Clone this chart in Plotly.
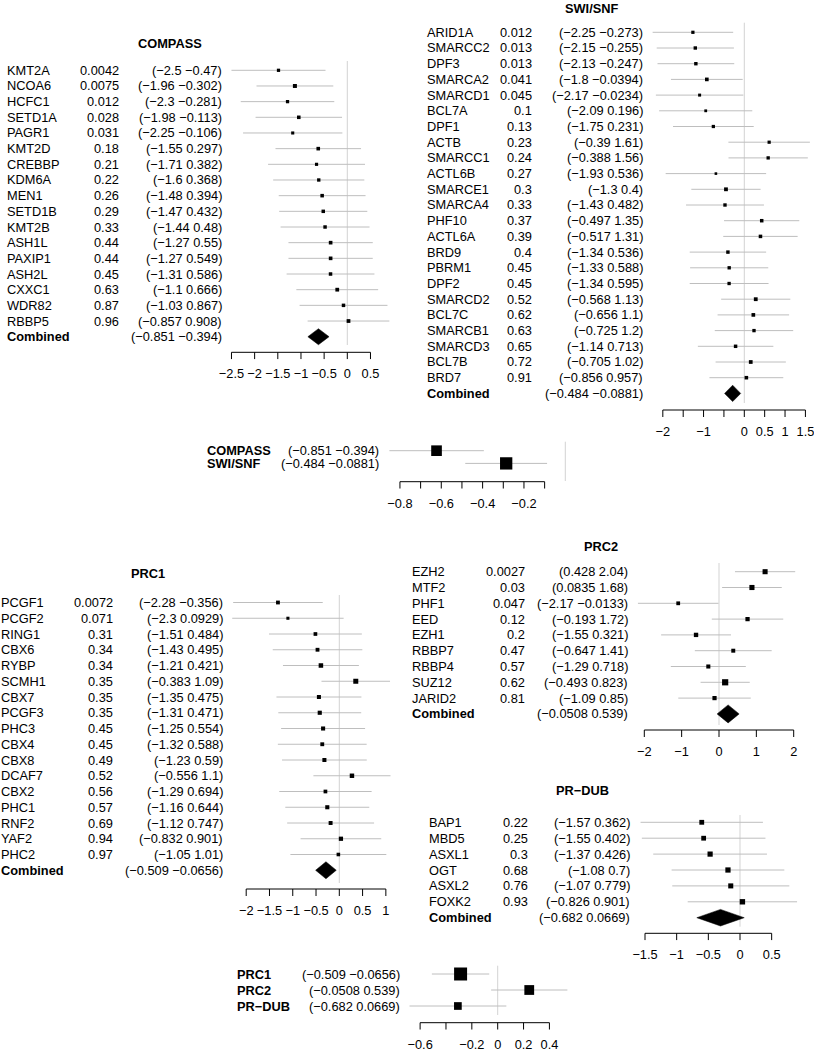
import plotly.graph_objects as go

W, H = 814, 1050
FONT = "Liberation Sans, Arial, Helvetica, sans-serif"
FS = 12.8
MINUS = "\u2212"
LINE_GRAY = "#BEBEBE"
ZERO_GRAY = "#D3D3D3"

# ---------------- data ----------------
compass_genes = ["KMT2A", "NCOA6", "HCFC1", "SETD1A", "PAGR1", "KMT2D", "CREBBP", "KDM6A", "MEN1",
                 "SETD1B", "KMT2B", "ASH1L", "PAXIP1", "ASH2L", "CXXC1", "WDR82", "RBBP5"]
compass_p = [0.0042, 0.0075, 0.012, 0.028, 0.031, 0.18, 0.21, 0.22, 0.26, 0.29, 0.33, 0.44, 0.44,
             0.45, 0.63, 0.87, 0.96]
compass_lo = [-2.5, -1.96, -2.3, -1.98, -2.25, -1.55, -1.71, -1.6, -1.48, -1.47, -1.44, -1.27, -1.27,
              -1.31, -1.1, -1.03, -0.857]
compass_hi = [-0.47, -0.302, -0.281, -0.113, -0.106, 0.297, 0.382, 0.368, 0.394, 0.432, 0.48, 0.55,
              0.549, 0.586, 0.666, 0.867, 0.908]
compass_est = [-1.485, -1.131, -1.29, -1.047, -1.178, -0.627, -0.664, -0.616, -0.543, -0.519, -0.48,
               -0.36, -0.36, -0.362, -0.217, -0.082, 0.026]
compass_comb = [-0.851, -0.394, -0.623]
compass_ticks = [-2.5, -2, -1.5, -1, -0.5, 0, 0.5]
compass_ticktext = ["−2.5", "−2", "−1.5", "−1", "−0.5", "0", "0.5"]

swisnf_genes = ["ARID1A", "SMARCC2", "DPF3", "SMARCA2", "SMARCD1", "BCL7A", "DPF1", "ACTB", "SMARCC1",
                "ACTL6B", "SMARCE1", "SMARCA4", "PHF10", "ACTL6A", "BRD9", "PBRM1", "DPF2", "SMARCD2",
                "BCL7C", "SMARCB1", "SMARCD3", "BCL7B", "BRD7"]
swisnf_p = [0.012, 0.013, 0.013, 0.041, 0.045, 0.1, 0.13, 0.23, 0.24, 0.27, 0.3, 0.33, 0.37, 0.39, 0.4,
            0.45, 0.45, 0.52, 0.62, 0.63, 0.65, 0.72, 0.91]
swisnf_lo = [-2.25, -2.15, -2.13, -1.8, -2.17, -2.09, -1.75, -0.39, -0.388, -1.93, -1.3, -1.43, -0.497,
             -0.517, -1.34, -1.33, -1.34, -0.568, -0.656, -0.725, -1.14, -0.705, -0.856]
swisnf_hi = [-0.273, -0.255, -0.247, -0.0394, -0.0234, 0.196, 0.231, 1.61, 1.56, 0.536, 0.4, 0.482, 1.35,
             1.31, 0.536, 0.588, 0.595, 1.13, 1.1, 1.2, 0.713, 1.02, 0.957]
swisnf_est = [-1.262, -1.203, -1.189, -0.92, -1.097, -0.947, -0.76, 0.61, 0.586, -0.697, -0.45, -0.474,
              0.427, 0.397, -0.402, -0.371, -0.373, 0.281, 0.222, 0.238, -0.214, 0.158, 0.051]
swisnf_comb = [-0.484, -0.0881, -0.286]
swisnf_ticks = [-2, -1.5, -1, -0.5, 0, 0.5, 1, 1.5]
swisnf_ticktext = ["−2", "", "−1", "", "0", "0.5", "1", "1.5"]

sum1_labels = ["COMPASS", "SWI/SNF"]
sum1_lo = [-0.851, -0.484]
sum1_hi = [-0.394, -0.0881]
sum1_est = [-0.623, -0.286]
sum1_ticks = [-0.8, -0.7, -0.6, -0.5, -0.4, -0.3, -0.2, -0.1]
sum1_ticktext = ["−0.8", "", "−0.6", "", "−0.4", "", "−0.2", ""]

prc1_genes = ["PCGF1", "PCGF2", "RING1", "CBX6", "RYBP", "SCMH1", "CBX7", "PCGF3", "PHC3", "CBX4", "CBX8",
              "DCAF7", "CBX2", "PHC1", "RNF2", "YAF2", "PHC2"]
prc1_p = [0.0072, 0.071, 0.31, 0.34, 0.34, 0.35, 0.35, 0.35, 0.45, 0.45, 0.49, 0.52, 0.56, 0.57, 0.69,
          0.94, 0.97]
prc1_lo = [-2.28, -2.3, -1.51, -1.43, -1.21, -0.383, -1.35, -1.31, -1.25, -1.32, -1.23, -0.556, -1.29,
           -1.16, -1.12, -0.832, -1.05]
prc1_hi = [-0.356, 0.0929, 0.484, 0.495, 0.421, 1.09, 0.475, 0.471, 0.554, 0.588, 0.59, 1.1, 0.694,
           0.644, 0.747, 0.901, 1.01]
prc1_est = [-1.318, -1.104, -0.513, -0.468, -0.395, 0.354, -0.438, -0.42, -0.348, -0.366, -0.32, 0.272,
            -0.298, -0.258, -0.187, 0.035, -0.02]
prc1_comb = [-0.509, -0.0656, -0.287]
prc1_ticks = [-2, -1.5, -1, -0.5, 0, 0.5, 1]
prc1_ticktext = ["−2", "−1.5", "−1", "−0.5", "0", "0.5", "1"]

prc2_genes = ["EZH2", "MTF2", "PHF1", "EED", "EZH1", "RBBP7", "RBBP4", "SUZ12", "JARID2"]
prc2_p = [0.0027, 0.03, 0.047, 0.12, 0.2, 0.47, 0.57, 0.62, 0.81]
prc2_lo = [0.428, 0.0835, -2.17, -0.193, -1.55, -0.647, -1.29, -0.493, -1.09]
prc2_hi = [2.04, 1.68, -0.0133, 1.72, 0.321, 1.41, 0.718, 0.823, 0.85]
prc2_est = [1.234, 0.882, -1.092, 0.764, -0.615, 0.382, -0.286, 0.165, -0.12]
prc2_comb = [-0.0508, 0.539, 0.244]
prc2_ticks = [-2, -1, 0, 1, 2]
prc2_ticktext = ["−2", "−1", "0", "1", "2"]

prdub_genes = ["BAP1", "MBD5", "ASXL1", "OGT", "ASXL2", "FOXK2"]
prdub_p = [0.22, 0.25, 0.3, 0.68, 0.76, 0.93]
prdub_lo = [-1.57, -1.55, -1.37, -1.08, -1.07, -0.826]
prdub_hi = [0.362, 0.402, 0.426, 0.7, 0.779, 0.901]
prdub_est = [-0.604, -0.574, -0.472, -0.19, -0.146, 0.038]
prdub_comb = [-0.682, 0.0669, -0.308]
prdub_ticks = [-1.5, -1, -0.5, 0, 0.5]
prdub_ticktext = ["−1.5", "−1", "−0.5", "0", "0.5"]

sum2_labels = ["PRC1", "PRC2", "PR−DUB"]
sum2_lo = [-0.509, -0.0508, -0.682]
sum2_hi = [-0.0656, 0.539, 0.0669]
sum2_est = [-0.287, 0.244, -0.308]
sum2_ticks = [-0.6, -0.4, -0.2, 0, 0.2, 0.4]
sum2_ticktext = ["−0.6", "", "−0.2", "0", "0.2", "0.4"]


def fmt(v):
    return ("%g" % v).replace("-", MINUS)


fig = go.Figure()
annotations = []
axes = {}
TL = 7  # tick length px


def add_panel(idx, names, lo, hi, est, ticks, ticktext, g, pvals=None, comb=None, title=None):
    sfx = "" if idx == 1 else str(idx)
    xr, yr = "x" + sfx, "y" + sfx
    zero, ppu, row0, sp = g["zero_px"], g["ppu"], g["row0"], g["sp"]

    def row(px):
        return (px - row0) / sp

    bot_px = g["axis_px"] + TL
    x0p, x1p = g["dom"]
    axes["xaxis" + sfx] = dict(
        domain=[x0p / W, x1p / W], range=[(x0p - zero) / ppu, (x1p - zero) / ppu], anchor=yr,
        showgrid=False, zeroline=False, showline=False, ticks="", tickmode="array",
        tickvals=ticks, ticktext=ticktext, tickangle=0, ticklabeloverflow="allow",
        ticklabelstandoff=g.get("standoff", 5),
        tickfont=dict(size=FS, color="black", family=FONT), fixedrange=True)
    axes["yaxis" + sfx] = dict(
        domain=[1 - bot_px / H, 1 - g["top_px"] / H], range=[row(bot_px), row(g["top_px"])],
        anchor=xr, visible=False, fixedrange=True)

    n = len(names)
    # zero line
    fig.add_trace(go.Scatter(x=[0, 0], y=[row(g["zl"][0]), row(g["zl"][1])], mode="lines",
                             line=dict(color=ZERO_GRAY, width=1), xaxis=xr, yaxis=yr, hoverinfo="skip"))
    # CI lines
    xs, ys = [], []
    for k in range(n):
        xs += [lo[k], hi[k], None]
        ys += [k, k, None]
    fig.add_trace(go.Scatter(x=xs, y=ys, mode="lines", line=dict(color=LINE_GRAY, width=1),
                             xaxis=xr, yaxis=yr, hoverinfo="skip"))
    # boxes (size proportional to precision)
    widths = [h - l for l, h in zip(lo, hi)]
    wmin = min(widths)
    sizes = [g["box_max"] * wmin / w for w in widths]
    fig.add_trace(go.Scatter(x=est, y=list(range(n)), mode="markers",
                             marker=dict(symbol="square", size=sizes, color="black", opacity=1,
                                         line=dict(width=0)),
                             xaxis=xr, yaxis=yr, hoverinfo="skip", cliponaxis=False))
    # combined diamond
    if comb is not None:
        cl, ch, ce = comb
        hh = g["dia_half"] / sp
        fig.add_trace(go.Scatter(x=[cl, ce, ch, ce, cl], y=[n, n - hh, n, n + hh, n], mode="lines",
                                 fill="toself", fillcolor="black", line=dict(color="black", width=0.5),
                                 xaxis=xr, yaxis=yr, hoverinfo="skip"))
    # axis line + ticks
    ya, yt = row(g["axis_px"]), row(g["axis_px"] + TL)
    ax_x = [ticks[0], ticks[-1], None]
    ax_y = [ya, ya, None]
    for t in ticks:
        ax_x += [t, t, None]
        ax_y += [ya, yt, None]
    fig.add_trace(go.Scatter(x=ax_x, y=ax_y, mode="lines", line=dict(color="black", width=1),
                             xaxis=xr, yaxis=yr, hoverinfo="skip"))

    def txt(x_px, y, text, anchor, bold=False):
        annotations.append(dict(x=x_px / W, xref="paper", y=y, yref=yr,
                                text=("<b>%s</b>" % text) if bold else text,
                                xanchor=anchor, yanchor="middle", showarrow=False, borderpad=0, borderwidth=0,
                                font=dict(size=FS, color="black", family=FONT)))

    summary = pvals is None
    for k in range(n):
        txt(g["name_x"], k, names[k], "left", bold=summary)
        if pvals is not None:
            txt(g["p_x"], k, fmt(pvals[k]), "right")
        txt(g["ci_x"], k, "(%s %s)" % (fmt(lo[k]), fmt(hi[k])), "right")
    if comb is not None:
        txt(g["name_x"], n, "Combined", "left", bold=True)
        txt(g["ci_x"], n, "(%s %s)" % (fmt(comb[0]), fmt(comb[1])), "right")
    if title is not None:
        annotations.append(dict(x=g["title_xy"][0] / W, y=1 - g["title_xy"][1] / H, xref="paper", yref="paper",
                                text="<b>%s</b>" % title, xanchor="center", yanchor="middle", showarrow=False,
                                borderpad=0, borderwidth=0,
                                font=dict(size=FS, color="black", family=FONT)))


add_panel(1, compass_genes, compass_lo, compass_hi, compass_est, compass_ticks, compass_ticktext,
          dict(zero_px=347.3, ppu=46.33, dom=(225, 395), row0=70.3, sp=15.67, axis_px=352.3, top_px=50,
               zl=(61, 345), name_x=6.7, p_x=119, ci_x=221.7, box_max=4.0, dia_half=8.0, title_xy=(169.5, 43)),
          pvals=compass_p, comb=compass_comb, title="COMPASS")

add_panel(2, swisnf_genes, swisnf_lo, swisnf_hi, swisnf_est, swisnf_ticks, swisnf_ticktext,
          dict(zero_px=744.3, ppu=40.74, dom=(645, 814), row0=32.3, sp=15.7, axis_px=410, top_px=15,
               zl=(22.7, 403), name_x=426.7, p_x=532.3, ci_x=642.7, box_max=3.8, dia_half=8.2, title_xy=(592, 8)),
          pvals=swisnf_p, comb=swisnf_comb, title="SWI/SNF")

add_panel(3, sum1_labels, sum1_lo, sum1_hi, sum1_est, sum1_ticks, sum1_ticktext,
          dict(zero_px=565.3, ppu=206.7, dom=(380, 572), row0=450.7, sp=12.7, axis_px=481.7, top_px=436,
               zl=(441.7, 481), name_x=206.7, ci_x=379.3, box_max=12.3))

add_panel(4, prc1_genes, prc1_lo, prc1_hi, prc1_est, prc1_ticks, prc1_ticktext,
          dict(zero_px=339.3, ppu=46.55, dom=(225, 395), row0=602.5, sp=15.75, axis_px=889, top_px=585,
               zl=(595, 883), name_x=1, p_x=113.3, ci_x=222.7, box_max=5.0, dia_half=8.5, title_xy=(147.5, 573.3)),
          pvals=prc1_p, comb=prc1_comb, title="PRC1")

add_panel(5, prc2_genes, prc2_lo, prc2_hi, prc2_est, prc2_ticks, prc2_ticktext,
          dict(zero_px=719, ppu=37.35, dom=(632, 800), row0=571.7, sp=15.8, axis_px=730, top_px=555,
               zl=(563, 725), name_x=412.3, p_x=525, ci_x=628.3, box_max=6.2, dia_half=9.0, title_xy=(601, 546)),
          pvals=prc2_p, comb=prc2_comb, title="PRC2")

add_panel(6, prdub_genes, prdub_lo, prdub_hi, prdub_est, prdub_ticks, prdub_ticktext,
          dict(zero_px=740, ppu=63.33, dom=(636, 800), row0=822.3, sp=15.9, axis_px=933.3, top_px=805,
               zl=(815, 926.7), name_x=429.3, p_x=527.7, ci_x=630, box_max=5.4, dia_half=8.3, title_xy=(582.5, 790.7)),
          pvals=prdub_p, comb=prdub_comb, title="PR−DUB")

add_panel(7, sum2_labels, sum2_lo, sum2_hi, sum2_est, sum2_ticks, sum2_ticktext,
          dict(zero_px=497.7, ppu=129.3, dom=(405, 572), row0=974, sp=16, axis_px=1022.7, top_px=958,
               zl=(965.7, 1015), name_x=236.7, ci_x=400, box_max=13.0))

fig.update_layout(
    width=W, height=H, margin=dict(l=0, r=0, t=0, b=0, pad=0), template="none",
    paper_bgcolor="white", plot_bgcolor="rgba(0,0,0,0)", showlegend=False,
    font=dict(family=FONT, size=FS, color="black"), annotations=annotations, **axes)

fig.write_html("out.html", post_script="document.body.style.margin='0';",
               config={"displayModeBar": False, "responsive": False})
